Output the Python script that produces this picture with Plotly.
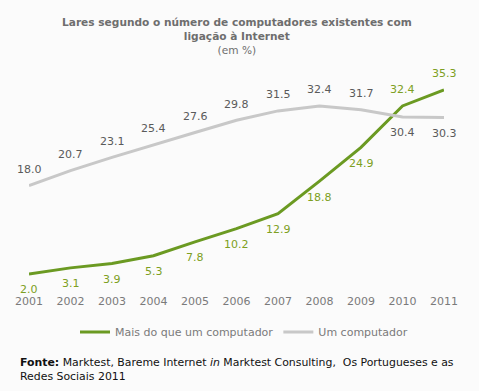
import plotly.graph_objects as go

years = [2001, 2002, 2003, 2004, 2005, 2006, 2007, 2008, 2009, 2010, 2011]
mais = [2.0, 3.1, 3.9, 5.3, 7.8, 10.2, 12.9, 18.8, 24.9, 32.4, 35.3]
um = [18.0, 20.7, 23.1, 25.4, 27.6, 29.8, 31.5, 32.4, 31.7, 30.4, 30.3]
# label placement: +1 above, -1 below
mais_pos = [-1, -1, -1, -1, -1, -1, -1, -1, -1, 1, 1]
um_pos = [1, 1, 1, 1, 1, 1, 1, 1, 1, -1, -1]

green = "#6b9a22"
gray_line = "#c8c8c8"
green_txt = "#7d9f22"
gray_txt = "#5a5a5a"
font = "DejaVu Sans"

W, H = 479, 391
TOP, BOT = 70, 285.4
PH = BOT - TOP


def py(pix):
    return (BOT - pix) / PH


fig = go.Figure()
fig.add_trace(go.Scatter(x=years, y=mais, mode="lines", name="Mais do que um computador",
                         line=dict(color=green, width=3)))
fig.add_trace(go.Scatter(x=years, y=um, mode="lines", name="Um computador",
                         line=dict(color=gray_line, width=3)))

ann = []
for x, v, p in zip(years, mais, mais_pos):
    ann.append(dict(x=x, y=v, text=f"{v:.1f}", showarrow=False, yshift=16 * p,
                    font=dict(color=green_txt, size=11, family=font)))
for x, v, p in zip(years, um, um_pos):
    ann.append(dict(x=x, y=v, text=f"{v:.1f}", showarrow=False, yshift=16 * p,
                    font=dict(color=gray_txt, size=11, family=font)))

ann.append(dict(xref="paper", yref="paper", x=(237 - 29) / (444 - 29), xanchor="center",
                y=py(14), yanchor="top",
                text="<b>Lares segundo o número de computadores existentes com<br>ligação à Internet</b><br>(em %)",
                showarrow=False, font=dict(color="#6e6e6e", size=10.6, family=font)))
ann.append(dict(xref="paper", yref="paper", x=(18 - 29) / (444 - 29), xanchor="left",
                y=py(355), yanchor="top",
                text="<b>Fonte:</b> Marktest, Bareme Internet <i>in</i> Marktest Consulting,  Os Portugueses e as<br>Redes Sociais 2011",
                showarrow=False, align="left", font=dict(color="#111111", size=10.9, family=font)))

fig.update_layout(
    width=W, height=H,
    paper_bgcolor="#fbfbfb", plot_bgcolor="#fbfbfb",
    margin=dict(l=29, r=W - 444, t=TOP, b=H - BOT, autoexpand=False),
    showlegend=True,
    legend=dict(orientation="h", xref="container", yref="container",
                x=75 / W, xanchor="left", y=(H - 332) / H, yanchor="middle",
                font=dict(color="#7a7a7a", size=11, family=font), itemwidth=30,
                bgcolor="rgba(0,0,0,0)"),
    annotations=ann,
    xaxis=dict(range=[2001, 2011], tickmode="array", tickvals=years, ticktext=[str(y) for y in years],
               showgrid=False, zeroline=False, showline=False,
               ticks="outside", ticklen=6, tickcolor="rgba(0,0,0,0)", automargin=False,
               tickfont=dict(color="#7a7a7a", size=11, family=font), fixedrange=True),
    yaxis=dict(range=[0, 38.9], visible=False, showgrid=False, zeroline=False, automargin=False,
               fixedrange=True),
)
fig.write_html("out.html", config={"displayModeBar": False},
               post_script="document.body.style.margin='0';document.body.style.overflow='hidden';document.body.style.background='#fbfbfb';")
